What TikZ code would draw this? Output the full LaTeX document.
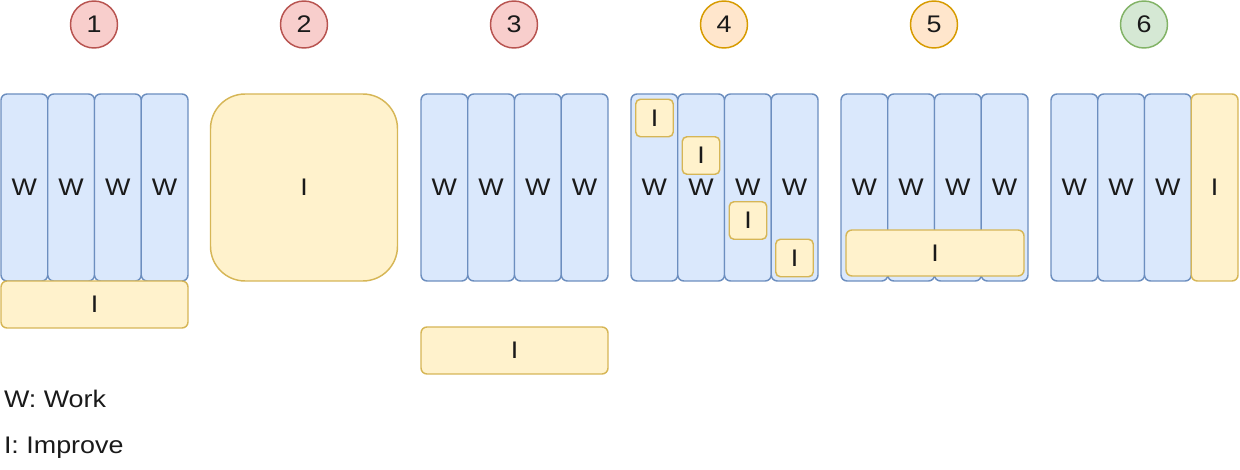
\documentclass[tikz,border=0pt]{standalone}
\usepackage{fontspec}
\setmainfont[FakeStretch=1.12]{Liberation Sans}
\definecolor{bfill}{HTML}{DAE8FC}\definecolor{bdraw}{HTML}{6C8EBF}
\definecolor{yfill}{HTML}{FFF2CC}\definecolor{ydraw}{HTML}{D6B656}
\definecolor{rfill}{HTML}{F8CECC}\definecolor{rdraw}{HTML}{B85450}
\definecolor{ofill}{HTML}{FFE6CC}\definecolor{odraw}{HTML}{D79B00}
\definecolor{gfill}{HTML}{D5E8D4}\definecolor{gdraw}{HTML}{82B366}
\definecolor{txt}{HTML}{1A1A1A}
\begin{document}
\begin{tikzpicture}[x=0.75pt,y=-0.75pt,
  every node/.style={inner sep=0pt,outer sep=0pt,text=txt,font=\fontsize{18}{21}\selectfont},
  box/.style={draw,line width=1.1pt,rounded corners=4.5pt,anchor=center},
  wcol/.style={box,fill=bfill,draw=bdraw,minimum width=46.75*0.75pt,minimum height=187*0.75pt},
  icol/.style={box,fill=yfill,draw=ydraw,minimum width=46.75*0.75pt,minimum height=187*0.75pt},
  ibar/.style={box,fill=yfill,draw=ydraw,minimum width=187*0.75pt,minimum height=47*0.75pt},
  ismall/.style={box,fill=yfill,draw=ydraw,rounded corners=3.5pt,minimum width=37.5*0.75pt,minimum height=37.5*0.75pt},
  num/.style={circle,line width=1.1pt,minimum size=47*0.75pt},
  legend/.style={anchor=base west}]
\useasboundingbox (0,0) rectangle (1240,470);
% numbered circles
\node[num,fill=rfill,draw=rdraw] (n1) at (94,24.5) {1};
\node[num,fill=rfill,draw=rdraw] (n2) at (304,24.5) {2};
\node[num,fill=rfill,draw=rdraw] (n3) at (514,24.5) {3};
\node[num,fill=ofill,draw=odraw] (n4) at (724,24.5) {4};
\node[num,fill=ofill,draw=odraw] (n5) at (934,24.5) {5};
\node[num,fill=gfill,draw=gdraw] (n6) at (1144,24.5) {6};
% work columns
\foreach \g/\gx in {1/1,3/421,4/631,5/841}{
  \foreach \i in {0,...,3}{
    \node[wcol] (w\g\i) at ({\gx+46.75*\i+23.375},187.5) {W};
  }
}
\foreach \i in {0,...,2}{
  \node[wcol] (w6\i) at ({1051+46.75*\i+23.375},187.5) {W};
}
\node[icol] (i6) at ({1051+46.75*3+23.375},187.5) {I};
% group 1
\node[ibar] (i1) at (94.5,304.5) {I};
% group 2
\node[box,fill=yfill,draw=ydraw,rounded corners=26pt,minimum width=187*0.75pt,minimum height=187*0.75pt] (i2) at (304,187.5) {I};
% group 3
\node[ibar] (i3) at (514.5,350.5) {I};
% group 4
\node[ismall] (i41) at (654.5,118) {I};
\node[ismall] (i42) at (701,155.5) {I};
\node[ismall] (i43) at (748,220.5) {I};
\node[ismall] (i44) at (794.5,258) {I};
% group 5
\node[box,fill=yfill,draw=ydraw,minimum width=178*0.75pt,minimum height=46*0.75pt] (i5) at (935,253) {I};
% legend
\node[legend] (lw) at (4,408) {W: Work};
\node[legend] (li) at (4,454) {I: Improve};
\end{tikzpicture}
\end{document}
